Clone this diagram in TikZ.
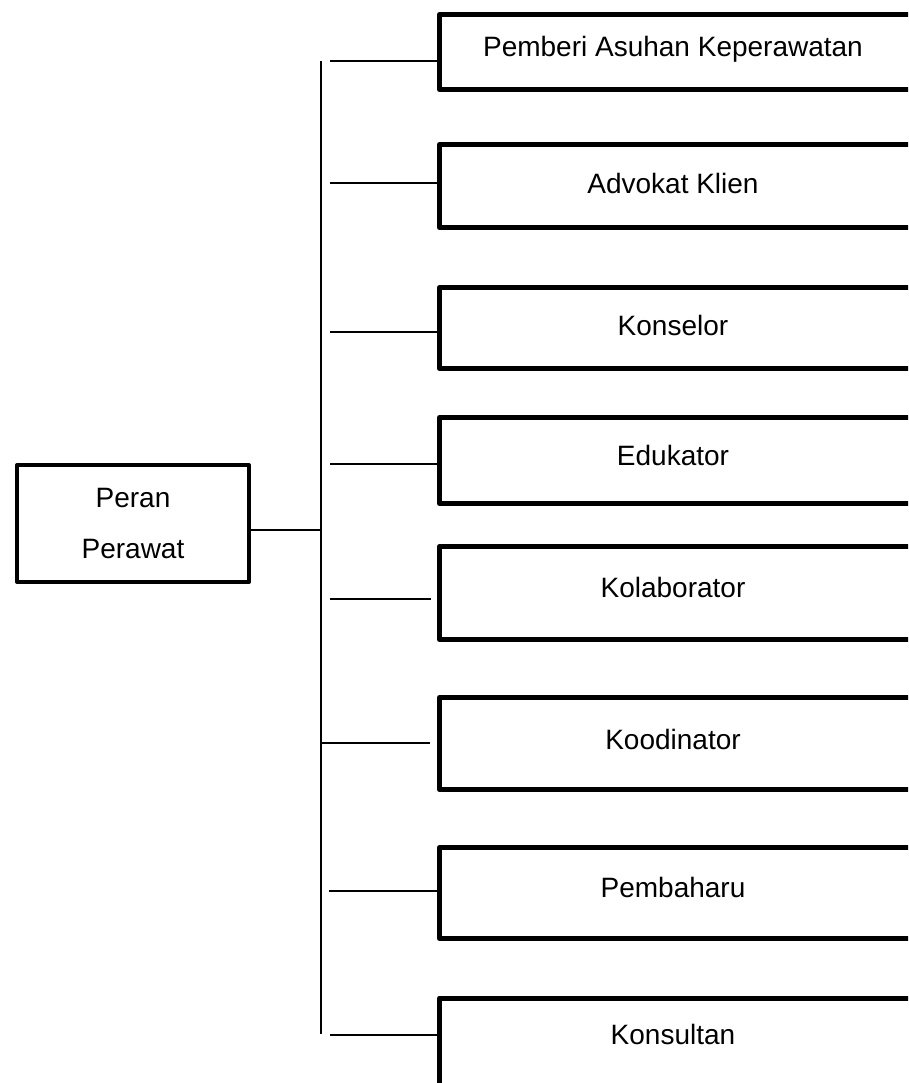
\documentclass[tikz,border=0pt]{standalone}
\usepackage{fontspec}
\setmainfont{Liberation Sans}
\begin{document}
\begin{tikzpicture}[x=0.75pt,y=-0.75pt,
  rolebox/.style={draw, line width=3.75pt, line join=round, rectangle,
    minimum width=360.4pt, inner sep=0pt, font=\fontsize{21}{25}\selectfont,
    text height=0.72em, text depth=0.21em},
  mainbox/.style={draw, line width=3pt, line join=round, rectangle,
    minimum width=174pt, minimum height=87.75pt, inner sep=0pt, align=center,
    font=\fontsize{21}{38.25}\selectfont},
  thin/.style={line width=1.5pt}]
\useasboundingbox (0,0) rectangle (908,1083);
\clip (0,0) rectangle (908,1083);

% main node
\node[mainbox] (m) at (133,523.5) {Peran\\[0pt]Perawat};

% role boxes (right edge runs off the page)
\node[rolebox, minimum height=56.25pt] (b1) at (679.75,52)  {};
\node[rolebox, minimum height=62.25pt] (b2) at (679.75,186) {};
\node[rolebox, minimum height=60.75pt] (b3) at (679.75,328) {};
\node[rolebox, minimum height=64.5pt]  (b4) at (679.75,460.5) {};
\node[rolebox, minimum height=69.75pt] (b5) at (679.75,593) {};
\node[rolebox, minimum height=69pt]    (b6) at (679.75,743.5) {};
\node[rolebox, minimum height=68.25pt] (b7) at (679.75,893) {};
\node[rolebox, minimum height=75pt, anchor=north] (b8) at (679.75,995.5) {};

% texts inside boxes
\begin{scope}[every node/.style={font=\fontsize{21}{25}\selectfont, inner sep=0pt}]
\node (t1) at (673,49)   {Pemberi Asuhan Keperawatan};
\node (t2) at (673,183)  {Advokat Klien};
\node (t3) at (673,325)  {Konselor};
\node (t4) at (673,455)  {Edukator};
\node (t5) at (673,587)  {Kolaborator};
\node (t6) at (673,739)  {Koodinator};
\node (t7) at (673,887)  {Pembaharu};
\node (t8) at (673,1034) {Konsultan};
\end{scope}

% trunk
\coordinate (ttop) at (321,61);
\coordinate (tbot) at (321,1034);
\draw[thin] (ttop) -- (tbot);

% main connector
\coordinate (j) at (321,530);
\draw[thin] (j -| m.east) -- (j);

% branches
\coordinate (s1) at (330,61);
\coordinate (s2) at (330,183);
\coordinate (s3) at (330,332);
\coordinate (s4) at (330,464);
\coordinate (s5) at (330,599);
\coordinate (e5) at (431,599);
\coordinate (s6) at (321,743);
\coordinate (e6) at (430,743);
\coordinate (s7) at (329,891);
\coordinate (s8) at (330,1035);
\draw[thin] (s1) -- (s1 -| b1.west);
\draw[thin] (s2) -- (s2 -| b2.west);
\draw[thin] (s3) -- (s3 -| b3.west);
\draw[thin] (s4) -- (s4 -| b4.west);
\draw[thin] (s5) -- (e5);
\draw[thin] (s6) -- (e6);
\draw[thin] (s7) -- (s7 -| b7.west);
\draw[thin] (s8) -- (s8 -| b8.west);
\end{tikzpicture}
\end{document}
